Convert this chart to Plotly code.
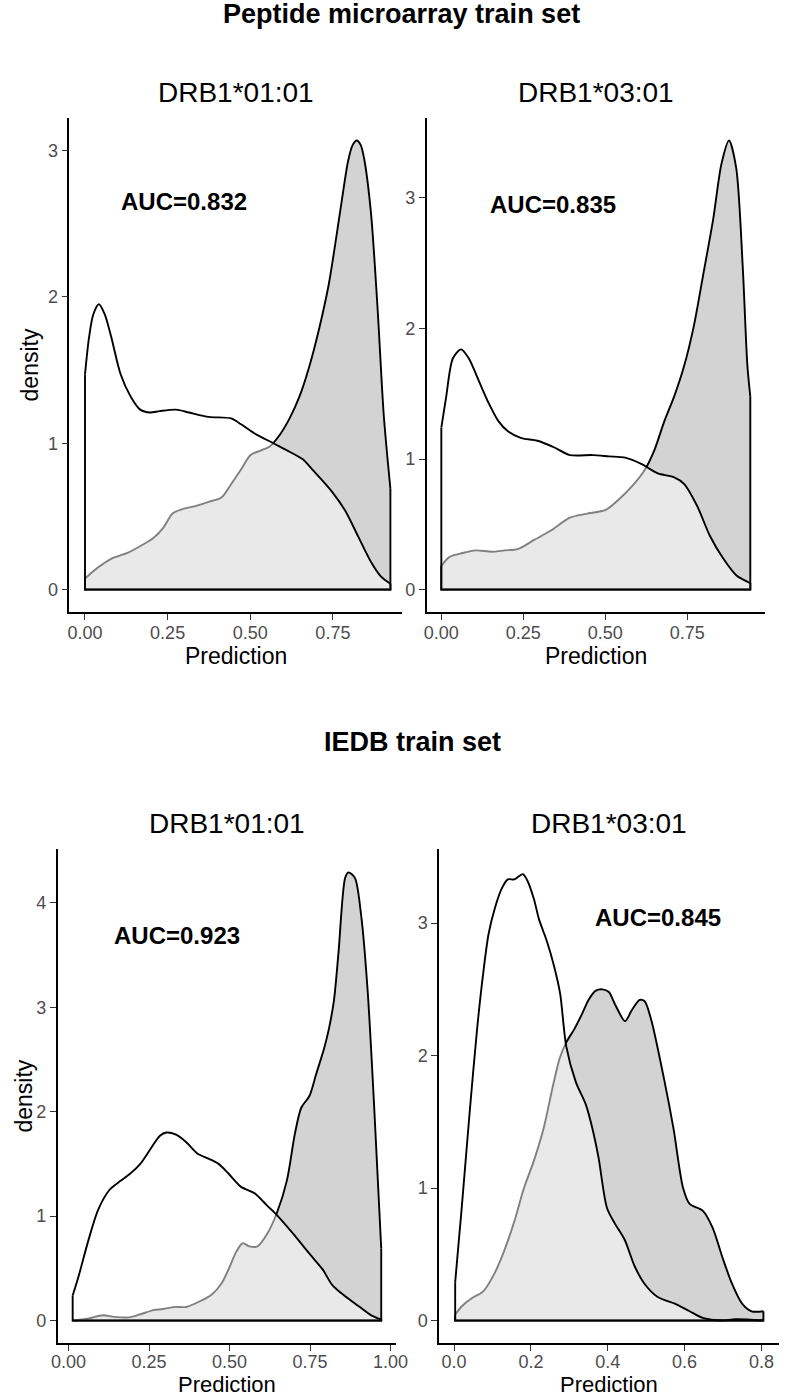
import plotly.graph_objects as go

W, H = 793, 1398
FONT = "Liberation Sans, Arial, Helvetica, sans-serif"

# ---------------- data ----------------
# Panel 1: Peptide microarray train set, DRB1*01:01
P1_NEG_X = [0.0, 0.012, 0.025, 0.042, 0.060, 0.079, 0.108, 0.138, 0.167, 0.197, 0.226, 0.275, 0.315,
            0.374, 0.442, 0.472, 0.511, 0.570, 0.629, 0.659, 0.688, 0.747, 0.787, 0.826, 0.865, 0.895, 0.924]
P1_NEG_Y = [1.47, 1.72, 1.88, 1.95, 1.88, 1.73, 1.47, 1.32, 1.23, 1.21, 1.22, 1.23, 1.21,
            1.18, 1.17, 1.13, 1.07, 1.00, 0.93, 0.89, 0.82, 0.67, 0.54, 0.365, 0.19, 0.09, 0.04]
P1_POS_X = [0.0, 0.039, 0.079, 0.128, 0.177, 0.206, 0.236, 0.265, 0.295, 0.334, 0.374, 0.413, 0.442,
            0.472, 0.501, 0.531, 0.560, 0.590, 0.619, 0.649, 0.678, 0.708, 0.737, 0.757, 0.777, 0.796,
            0.810, 0.822, 0.834, 0.845, 0.865, 0.885, 0.904, 0.924]
P1_POS_Y = [0.075, 0.15, 0.21, 0.25, 0.31, 0.35, 0.42, 0.52, 0.55, 0.57, 0.60, 0.63, 0.72,
            0.82, 0.92, 0.95, 0.98, 1.06, 1.17, 1.32, 1.52, 1.78, 2.08, 2.36, 2.66, 2.93,
            3.04, 3.07, 3.04, 2.94, 2.58, 1.93, 1.19, 0.69]

# Panel 2: Peptide microarray train set, DRB1*03:01
P2_NEG_X = [0.0, 0.015, 0.035, 0.060, 0.084, 0.114, 0.144, 0.174, 0.204, 0.244, 0.293, 0.343, 0.392,
            0.462, 0.511, 0.561, 0.611, 0.660, 0.710, 0.740, 0.780, 0.819, 0.859, 0.899, 0.942]
P2_NEG_Y = [1.24, 1.48, 1.77, 1.84, 1.77, 1.60, 1.43, 1.29, 1.21, 1.16, 1.14, 1.09, 1.03,
            1.03, 1.02, 1.01, 0.96, 0.89, 0.86, 0.81, 0.64, 0.41, 0.24, 0.11, 0.05]
P2_POS_X = [0.0, 0.025, 0.065, 0.104, 0.154, 0.194, 0.233, 0.283, 0.333, 0.392, 0.442, 0.501, 0.541,
            0.581, 0.621, 0.650, 0.680, 0.710, 0.740, 0.770, 0.799, 0.829, 0.854, 0.877, 0.899,
            0.919, 0.933, 0.942]
P2_POS_Y = [0.18, 0.25, 0.28, 0.30, 0.29, 0.30, 0.31, 0.38, 0.45, 0.55, 0.58, 0.61, 0.69,
            0.79, 0.92, 1.07, 1.29, 1.48, 1.71, 2.02, 2.42, 2.84, 3.26, 3.44, 3.23,
            2.47, 1.72, 1.48]

# Panel 3: IEDB train set, DRB1*01:01
P3_NEG_X = [0.013, 0.031, 0.062, 0.092, 0.127, 0.163, 0.193, 0.223, 0.254, 0.284, 0.304, 0.334, 0.365,
            0.400, 0.435, 0.466, 0.496, 0.536, 0.577, 0.617, 0.647, 0.698, 0.748, 0.789, 0.819, 0.860,
            0.900, 0.940, 0.971]
P3_NEG_Y = [0.24, 0.42, 0.77, 1.06, 1.25, 1.34, 1.41, 1.50, 1.64, 1.77, 1.80, 1.78, 1.71,
            1.60, 1.55, 1.50, 1.41, 1.28, 1.22, 1.10, 1.01, 0.83, 0.64, 0.49, 0.34, 0.23,
            0.14, 0.05, 0.01]
P3_POS_X = [0.013, 0.062, 0.107, 0.142, 0.188, 0.223, 0.264, 0.294, 0.329, 0.365, 0.405, 0.445, 0.476,
            0.501, 0.521, 0.541, 0.562, 0.587, 0.617, 0.647, 0.678, 0.703, 0.723, 0.748, 0.769, 0.794,
            0.809, 0.824, 0.838, 0.859, 0.869, 0.889, 0.909, 0.929, 0.949, 0.971]
P3_POS_Y = [0.0, 0.02, 0.05, 0.035, 0.03, 0.06, 0.10, 0.11, 0.13, 0.13, 0.18, 0.25, 0.36,
            0.52, 0.66, 0.74, 0.71, 0.71, 0.83, 1.03, 1.34, 1.79, 2.04, 2.15, 2.36, 2.61,
            2.80, 3.06, 3.51, 4.24, 4.29, 4.24, 3.87, 3.15, 2.05, 0.69]

# Panel 4: IEDB train set, DRB1*03:01
P4_NEG_X = [0.003, 0.020, 0.040, 0.060, 0.075, 0.090, 0.107, 0.124, 0.140, 0.157, 0.179, 0.191, 0.208,
            0.221, 0.242, 0.259, 0.276, 0.292, 0.317, 0.343, 0.360, 0.376, 0.398, 0.419, 0.444, 0.470,
            0.495, 0.529, 0.580, 0.613, 0.647, 0.698, 0.732, 0.805]
P4_NEG_Y = [0.29, 0.85, 1.55, 2.20, 2.60, 2.92, 3.12, 3.26, 3.33, 3.33, 3.37, 3.32, 3.18,
            3.03, 2.86, 2.69, 2.47, 2.07, 1.80, 1.63, 1.45, 1.23, 0.85, 0.73, 0.61, 0.41,
            0.28, 0.18, 0.12, 0.07, 0.02, 0.0, 0.01, 0.0]
P4_POS_X = [0.003, 0.021, 0.047, 0.076, 0.106, 0.131, 0.157, 0.182, 0.207, 0.233, 0.258, 0.275, 0.292,
            0.313, 0.334, 0.350, 0.369, 0.386, 0.403, 0.420, 0.445, 0.462, 0.483, 0.496, 0.513, 0.546,
            0.571, 0.596, 0.613, 0.647, 0.673, 0.698, 0.723, 0.749, 0.774, 0.805]
P4_POS_Y = [0.045, 0.11, 0.17, 0.22, 0.36, 0.53, 0.75, 1.00, 1.20, 1.45, 1.78, 1.98, 2.10,
            2.20, 2.32, 2.42, 2.49, 2.50, 2.48, 2.38, 2.26, 2.34, 2.42, 2.41, 2.27, 1.83,
            1.45, 1.00, 0.88, 0.83, 0.70, 0.48, 0.28, 0.13, 0.07, 0.07]

GROUP_TITLES = ["Peptide microarray train set", "IEDB train set"]
ALLELES = ["DRB1*01:01", "DRB1*03:01", "DRB1*01:01", "DRB1*03:01"]
AUC_LABELS = ["AUC=0.832", "AUC=0.835", "AUC=0.923", "AUC=0.845"]
AUC_POS_X = [0.30, 0.34, 0.337, 0.53]
AUC_POS_Y = [2.65, 2.95, 3.69, 3.04]

X_TICKS = [[0, 0.25, 0.5, 0.75], [0, 0.25, 0.5, 0.75], [0, 0.25, 0.5, 0.75, 1.0], [0, 0.2, 0.4, 0.6, 0.8]]
X_TICKTEXT = [["0.00", "0.25", "0.50", "0.75"], ["0.00", "0.25", "0.50", "0.75"],
              ["0.00", "0.25", "0.50", "0.75", "1.00"], ["0.0", "0.2", "0.4", "0.6", "0.8"]]
Y_TICKS = [[0, 1, 2, 3], [0, 1, 2, 3], [0, 1, 2, 3, 4], [0, 1, 2, 3]]

# ---------------- layout geometry (pixels) ----------------
PANEL_PX = [(64, 405, 118, 612), (430, 777, 118, 612), (52, 399, 849, 1343), (443, 791, 849, 1343)]
XLABEL_OFFSET = [44, 44, 41, 41]
XLABEL_SIZE = [23, 23, 22, 22]
XTICK_STANDOFF = [-3, -3, -5, -5]
X_RANGES = [[-0.047, 0.96], [-0.0446, 0.988], [-0.0333, 1.0182], [-0.0381, 0.8457]]
Y_RANGES = [[-0.1535, 3.2235], [-0.172, 3.612], [-0.215, 4.515], [-0.1695, 3.5595]]

POS_FILL = "#d3d3d3"
NEG_FILL = "rgba(255,255,255,0.5)"
LW = 1.9

data = [(P1_NEG_X, P1_NEG_Y, P1_POS_X, P1_POS_Y),
        (P2_NEG_X, P2_NEG_Y, P2_POS_X, P2_POS_Y),
        (P3_NEG_X, P3_NEG_Y, P3_POS_X, P3_POS_Y),
        (P4_NEG_X, P4_NEG_Y, P4_POS_X, P4_POS_Y)]

fig = go.Figure()


def add_density(x, y, fillcolor, xa, ya):
    fig.add_trace(go.Scatter(x=x, y=y, mode="lines", fill="tozeroy", fillcolor=fillcolor,
                             line=dict(color="black", width=LW, shape="spline", smoothing=0.8),
                             xaxis=xa, yaxis=ya, hoverinfo="skip", showlegend=False))
    fig.add_trace(go.Scatter(x=[x[0], x[0], x[-1], x[-1]], y=[y[0], 0, 0, y[-1]], mode="lines",
                             line=dict(color="black", width=LW),
                             xaxis=xa, yaxis=ya, hoverinfo="skip", showlegend=False))


annotations = []
for i, (nx, ny, px_, py_) in enumerate(data):
    k = "" if i == 0 else str(i + 1)
    xa, ya = "x" + k, "y" + k
    add_density(px_, py_, POS_FILL, xa, ya)
    add_density(nx, ny, NEG_FILL, xa, ya)

    l, r, t, b = PANEL_PX[i]
    axis_common = dict(showline=True, linecolor="black", linewidth=1.8, showgrid=False, zeroline=False,
                       ticks="outside", ticklen=6, tickwidth=1.4, tickcolor="#333333",
                       tickfont=dict(family=FONT, size=18, color="#4d4d4d"), fixedrange=True)
    fig.layout["xaxis" + k] = dict(domain=[l / W, r / W], range=X_RANGES[i], anchor=ya,
                                   tickvals=X_TICKS[i], ticktext=X_TICKTEXT[i],
                                   ticklabelstandoff=XTICK_STANDOFF[i], **axis_common)
    fig.layout["yaxis" + k] = dict(domain=[1 - b / H, 1 - t / H], range=Y_RANGES[i], anchor=xa,
                                   tickvals=Y_TICKS[i], **axis_common)

    cx = (l + r) / 2
    annotations.append(dict(text=ALLELES[i], x=cx / W, y=1 - (t - 26) / H, xref="paper", yref="paper",
                            showarrow=False, xanchor="center", yanchor="middle",
                            font=dict(family=FONT, size=28, color="black")))
    annotations.append(dict(text="Prediction", x=cx / W, y=1 - (b + XLABEL_OFFSET[i]) / H,
                            xref="paper", yref="paper",
                            showarrow=False, xanchor="center", yanchor="middle",
                            font=dict(family=FONT, size=XLABEL_SIZE[i], color="black")))
    annotations.append(dict(text="<b>" + AUC_LABELS[i] + "</b>", x=AUC_POS_X[i], y=AUC_POS_Y[i],
                            xref=xa, yref=ya, showarrow=False, xanchor="center", yanchor="middle",
                            font=dict(family=FONT, size=24, color="black")))

# y-axis titles (left panels only)
for xpix, (l, r, t, b) in [(24, PANEL_PX[0]), (17, PANEL_PX[2])]:
    annotations.append(dict(text="density", x=xpix / W, y=1 - ((t + b) / 2) / H, xref="paper", yref="paper",
                            showarrow=False, xanchor="center", yanchor="middle", textangle=-90,
                            font=dict(family=FONT, size=23, color="black")))

# group titles
for text, xpix, ypix in [(GROUP_TITLES[0], 404, 14), (GROUP_TITLES[1], 415, 742)]:
    annotations.append(dict(text="<b>" + text + "</b>", x=xpix / W, y=1 - ypix / H, xref="paper", yref="paper",
                            showarrow=False, xanchor="center", yanchor="middle",
                            font=dict(family=FONT, size=27, color="black")))

fig.update_layout(width=W, height=H, margin=dict(l=0, r=0, t=0, b=0),
                  paper_bgcolor="white", plot_bgcolor="white", showlegend=False,
                  annotations=annotations, font=dict(family=FONT))

fig.write_html("out.html", config={"displayModeBar": False},
               post_script="document.body.style.margin='0';document.body.style.overflow='hidden';"
                           "document.documentElement.style.overflow='hidden';")
